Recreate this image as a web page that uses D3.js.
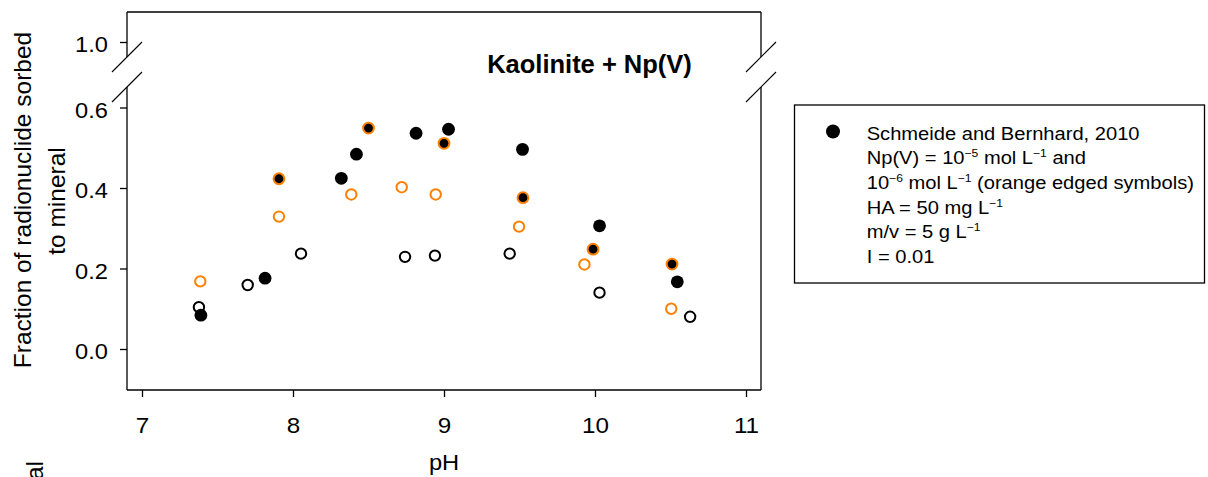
<!DOCTYPE html>
<html>
<head>
<meta charset="utf-8">
<script src="https://cdn.jsdelivr.net/npm/d3@7"></script>
<style>
  html, body { margin: 0; padding: 0; background: #fff; }
  svg { display: block; }
  text { font-family: "Liberation Sans", Arial, sans-serif; fill: #000; }
</style>
</head>
<body>
<svg id="chart" width="1208" height="477"></svg>
<script>
// ---- data ----
const xTicks = [7, 8, 9, 10, 11];
const yTicksLow = [0.0, 0.2, 0.4, 0.6];
const yTicksHigh = [1.0];

// filled black, Np(V) = 1e-5
const filledPH  = [7.39, 7.815, 8.32, 8.42, 8.815, 9.03, 9.52, 10.03, 10.545];
const filledVal = [0.084, 0.176, 0.424, 0.484, 0.536, 0.546, 0.496, 0.306, 0.167];

// filled black, orange edged, Np(V) = 1e-6
const edgedPH  = [7.907, 8.50, 9.00, 9.523, 9.987, 10.51];
const edgedVal = [0.423, 0.549, 0.511, 0.376, 0.248, 0.211];

// open black circles
const openBlackPH  = [7.377, 7.70, 8.053, 8.742, 8.94, 9.435, 10.03, 10.63];
const openBlackVal = [0.104, 0.159, 0.237, 0.229, 0.232, 0.237, 0.140, 0.080];

// open orange circles
const openOrangePH  = [7.386, 7.907, 8.386, 8.72, 8.945, 9.497, 9.93, 10.505];
const openOrangeVal = [0.168, 0.329, 0.384, 0.402, 0.384, 0.304, 0.210, 0.100];

const title = "Kaolinite + Np(V)";
const xLabel = "pH";
const yLabel1 = "Fraction of radionuclide sorbed";
const yLabel2 = "to mineral";

(function () {
// ---- layout ----
const ORANGE = "#ff8000";
const FONT = "Liberation Sans, Arial, sans-serif";
const SX = 1.1; // horizontal stretch of the small texts in the reference
const fLeft = 127, fRight = 761, fTop = 12, fBottom = 390;
const breakTop = 57, breakBottom = 87;

const svg = d3.select("#chart");

const x = d3.scaleLinear().domain([7, 11]).range([142, 746]);
const yLow = d3.scaleLinear().domain([0, 0.6]).range([349, 107.5]);
const yHigh = d3.scaleLinear().domain([1.0, 1.075]).range([42, 11.8]);

// frame
const g = svg.append("g").attr("stroke", "#000").attr("stroke-width", 1.3).attr("fill", "none");
g.append("line").attr("x1", fLeft).attr("x2", fRight).attr("y1", fTop).attr("y2", fTop);
g.append("line").attr("x1", fLeft).attr("x2", fRight).attr("y1", fBottom).attr("y2", fBottom);
[fLeft, fRight].forEach(xx => {
  g.append("line").attr("x1", xx).attr("x2", xx).attr("y1", fTop).attr("y2", breakTop);
  g.append("line").attr("x1", xx).attr("x2", xx).attr("y1", breakBottom).attr("y2", fBottom);
  [breakTop, breakBottom].forEach(yy => {
    g.append("line").attr("x1", xx - 15).attr("y1", yy + 15)
      .attr("x2", xx + 15).attr("y2", yy - 15).attr("stroke-width", 1.1);
  });
});

// x axis
const xAxis = d3.axisBottom(x).tickValues(xTicks).tickFormat(d3.format("d")).tickSize(7).tickPadding(20.4);
const gx = svg.append("g").attr("transform", `translate(0,${fBottom})`).call(xAxis);
gx.select(".domain").remove();
gx.selectAll("line").attr("stroke", "#000").attr("stroke-width", 1.3);
gx.selectAll("text").attr("font-size", 22).attr("font-family", FONT).attr("fill", "#000")
  .attr("transform", `scale(${SX},1)`);

// y axes
function styleY(sel) {
  sel.select(".domain").remove();
  sel.selectAll("line").attr("stroke", "#000").attr("stroke-width", 1.3);
  sel.selectAll("text").attr("font-size", 21.5).attr("font-family", FONT).attr("fill", "#000")
    .attr("dy", "0.46em").attr("transform", `scale(${SX},1)`);
}
const pad = 19 / SX - 7;
const gyl = svg.append("g").attr("transform", `translate(${fLeft},0)`)
  .call(d3.axisLeft(yLow).tickValues(yTicksLow).tickFormat(d3.format(".1f")).tickSize(7).tickPadding(pad));
styleY(gyl);
const gyh = svg.append("g").attr("transform", `translate(${fLeft},0)`)
  .call(d3.axisLeft(yHigh).tickValues(yTicksHigh).tickFormat(d3.format(".1f")).tickSize(7).tickPadding(pad));
styleY(gyh);

// labels
svg.append("text").attr("transform", `translate(${(fLeft + fRight) / 2},470) scale(${SX},1)`)
  .attr("text-anchor", "middle").attr("font-size", 21.5).text(xLabel);
svg.append("text").attr("transform", "translate(31,200) rotate(-90)").attr("text-anchor", "middle")
  .attr("font-size", 24.5).text(yLabel1);
svg.append("text").attr("transform", "translate(65,201) rotate(-90)").attr("text-anchor", "middle")
  .attr("font-size", 24.5).text(yLabel2);
// clipped label from the panel below
svg.append("text").attr("transform", "translate(43,461) rotate(-90)").attr("text-anchor", "end")
  .attr("font-size", 24.5).text(yLabel2);

svg.append("text").attr("x", 589.5).attr("y", 73).attr("text-anchor", "middle")
  .attr("font-size", 25.5).attr("font-weight", "bold").text(title);

// points
function pts(phs, vals) { return phs.map((p, i) => ({ p, v: vals[i] })); }
const plot = svg.append("g");
plot.selectAll(".ob").data(pts(openBlackPH, openBlackVal)).join("circle")
  .attr("cx", d => x(d.p)).attr("cy", d => yLow(d.v)).attr("r", 5.2)
  .attr("fill", "#fff").attr("stroke", "#000").attr("stroke-width", 2);
plot.selectAll(".oo").data(pts(openOrangePH, openOrangeVal)).join("circle")
  .attr("cx", d => x(d.p)).attr("cy", d => yLow(d.v)).attr("r", 5.2)
  .attr("fill", "#fff").attr("stroke", ORANGE).attr("stroke-width", 2);
plot.selectAll(".fb").data(pts(filledPH, filledVal)).join("circle")
  .attr("cx", d => x(d.p)).attr("cy", d => yLow(d.v)).attr("r", 6.4)
  .attr("fill", "#000");
plot.selectAll(".fe").data(pts(edgedPH, edgedVal)).join("circle")
  .attr("cx", d => x(d.p)).attr("cy", d => yLow(d.v)).attr("r", 5.4)
  .attr("fill", "#000").attr("stroke", ORANGE).attr("stroke-width", 2);

// legend
svg.append("rect").attr("x", 794.5).attr("y", 105).attr("width", 410).attr("height", 178)
  .attr("fill", "none").attr("stroke", "#000").attr("stroke-width", 1.3);
svg.append("circle").attr("cx", 833).attr("cy", 131.5).attr("r", 7).attr("fill", "#000");

const lx = 866.7, fs = 18.3;
const lines = [
  [["Schmeide and Bernhard, 2010", false]],
  [["Np(V) = 10", false], ["\u22125", true], [" mol L", false], ["\u22121", true], [" and", false]],
  [["10", false], ["\u22126", true], [" mol L", false], ["\u22121", true], [" (orange edged symbols)", false]],
  [["HA = 50 mg L", false], ["\u22121", true]],
  [["m/v = 5 g L", false], ["\u22121", true]],
  [["I = 0.01", false]]
];
const baselines = [139.5, 164.2, 188.9, 213.6, 238.3, 263];
lines.forEach((parts, i) => {
  const t = svg.append("text").attr("transform", `translate(${lx},${baselines[i]}) scale(${SX},1)`)
    .attr("font-size", fs);
  let prevSup = false;
  parts.forEach(([s, sup]) => {
    const ts = t.append("tspan").text(s);
    if (sup) ts.attr("font-size", 11).attr("dy", -7);
    else if (prevSup) ts.attr("dy", 7);
    prevSup = sup;
  });
});
})();
</script>
</body>
</html>
